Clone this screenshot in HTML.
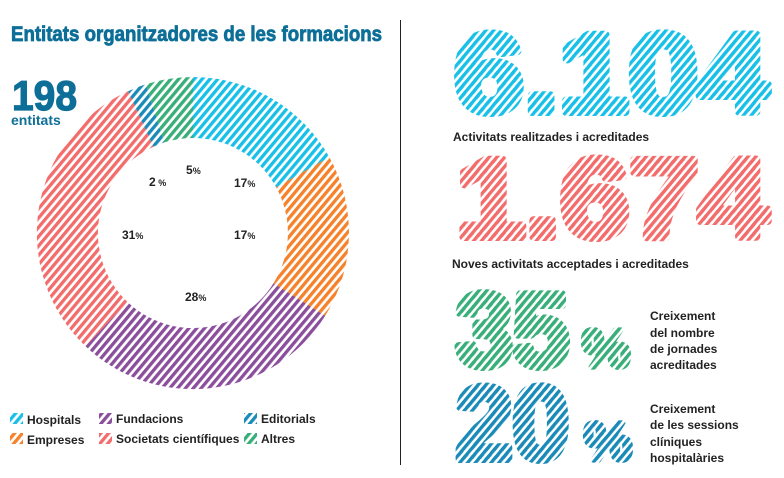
<!DOCTYPE html>
<html><head><meta charset="utf-8"><style>
html,body{margin:0;padding:0;background:#fff;}
svg{display:block;font-family:"Liberation Sans",sans-serif;}
</style></head><body>
<svg width="784" height="478" viewBox="0 0 784 478" xmlns="http://www.w3.org/2000/svg">
<defs>
<pattern id="pc" width="6" height="6" patternUnits="userSpaceOnUse" patternTransform="rotate(40)"><rect width="3.3" height="6" fill="#18c0e8"/></pattern>
<pattern id="po" width="6" height="6" patternUnits="userSpaceOnUse" patternTransform="rotate(40)"><rect width="3.3" height="6" fill="#f5822a"/></pattern>
<pattern id="pp" width="6" height="6" patternUnits="userSpaceOnUse" patternTransform="rotate(40)"><rect width="3.3" height="6" fill="#8a4e9c"/></pattern>
<pattern id="pr" width="6" height="6" patternUnits="userSpaceOnUse" patternTransform="rotate(40)"><rect width="3.3" height="6" fill="#f36c6c"/></pattern>
<pattern id="pb" width="6" height="6" patternUnits="userSpaceOnUse" patternTransform="rotate(40)"><rect width="3.3" height="6" fill="#1a8ab8"/></pattern>
<pattern id="pg" width="6" height="6" patternUnits="userSpaceOnUse" patternTransform="rotate(40)"><rect width="3.3" height="6" fill="#38ae78"/></pattern>
</defs>

<text x="11" y="41" font-size="21" font-weight="bold" fill="#0d6f98" stroke="#0d6f98" stroke-width="0.8" textLength="371" lengthAdjust="spacingAndGlyphs">Entitats organitzadores de les formacions</text>
<text x="12" y="110" font-size="42" font-weight="bold" fill="#0d6f98" stroke="#0d6f98" stroke-width="1.2" textLength="65" lengthAdjust="spacingAndGlyphs">198</text>
<text x="11" y="125" font-size="14" font-weight="bold" fill="#0d6f98">entitats</text>

<path fill="url(#pc)" d="M193,77 A156,156 0 0 1 329.4,157.3 L276.1,187.2 A95,95 0 0 0 193,138 Z"/>
<path fill="url(#po)" d="M329.4,157.3 A156,156 0 0 1 325.2,315.7 L273.5,283.3 A95,95 0 0 0 276.1,187.2 Z"/>
<path fill="url(#pp)" d="M325.2,315.7 A156,156 0 0 1 85.5,346.3 L127.5,302.0 A95,95 0 0 0 273.5,283.3 Z"/>
<path fill="url(#pr)" d="M85.5,346.3 A156,156 0 0 1 128.1,91.2 L153.5,146.7 A95,95 0 0 0 127.5,302.0 Z"/>
<path fill="url(#pb)" d="M128.1,91.2 A156,156 0 0 1 145.8,84.3 L164.3,142.4 A95,95 0 0 0 153.5,146.7 Z"/>
<path fill="url(#pg)" d="M145.8,84.3 A156,156 0 0 1 193,77 L193,138 A95,95 0 0 0 164.3,142.4 Z"/>

<g font-size="12" font-weight="bold" fill="#222">
<text x="186" y="174">5<tspan font-size="9">%</tspan></text>
<text x="149" y="186">2<tspan font-size="9"> %</tspan></text>
<text x="234" y="187">17<tspan font-size="9">%</tspan></text>
<text x="122" y="239">31<tspan font-size="9">%</tspan></text>
<text x="234" y="239">17<tspan font-size="9">%</tspan></text>
<text x="185" y="301">28<tspan font-size="9">%</tspan></text>
</g>

<g font-size="12" font-weight="bold" fill="#222">
<rect x="10" y="413" width="13" height="11" fill="url(#pc)"/><text x="27" y="424">Hospitals</text>
<rect x="10" y="433" width="13" height="11" fill="url(#po)"/><text x="27" y="444">Empreses</text>
<rect x="99" y="413" width="13" height="11" fill="url(#pp)"/><text x="116" y="423">Fundacions</text>
<rect x="99" y="433" width="13" height="11" fill="url(#pr)"/><text x="116" y="443">Societats científiques</text>
<rect x="244" y="413" width="13" height="11" fill="url(#pb)"/><text x="261" y="423">Editorials</text>
<rect x="244" y="433" width="13" height="11" fill="url(#pg)"/><text x="261" y="443">Altres</text>
</g>

<line x1="400.5" y1="20" x2="400.5" y2="465" stroke="#222" stroke-width="1"/>

<g font-weight="bold" stroke-width="8" stroke-linejoin="round">
<text x="454" y="112" font-size="112" fill="url(#pc)" stroke="url(#pc)" textLength="314" lengthAdjust="spacingAndGlyphs">6.104</text>
<text x="456" y="237" font-size="112" fill="url(#pr)" stroke="url(#pr)" textLength="312" lengthAdjust="spacingAndGlyphs">1.674</text>
<text x="456" y="366" font-size="104" fill="url(#pg)" stroke="url(#pg)" textLength="113" lengthAdjust="spacingAndGlyphs">35</text>
<text x="582" y="367" font-size="54" fill="url(#pg)" stroke="url(#pg)" stroke-width="5" textLength="48" lengthAdjust="spacingAndGlyphs">%</text>
<text x="456" y="459" font-size="104" fill="url(#pb)" stroke="url(#pb)" textLength="113" lengthAdjust="spacingAndGlyphs">20</text>
<text x="584" y="460" font-size="54" fill="url(#pb)" stroke="url(#pb)" stroke-width="5" textLength="48" lengthAdjust="spacingAndGlyphs">%</text>
</g>
<g font-weight="bold" font-size="12" fill="#222">
<text x="453" y="141">Activitats realitzades i acreditades</text>
<text x="452" y="268">Noves activitats acceptades i acreditades</text>
<text x="650" y="320">Creixement</text>
<text x="650" y="337">del nombre</text>
<text x="650" y="353">de jornades</text>
<text x="650" y="369">acreditades</text>
<text x="650" y="413">Creixement</text>
<text x="650" y="429">de les sessions</text>
<text x="650" y="446">clíniques</text>
<text x="650" y="462">hospitalàries</text>
</g>
</svg>
</body></html>
